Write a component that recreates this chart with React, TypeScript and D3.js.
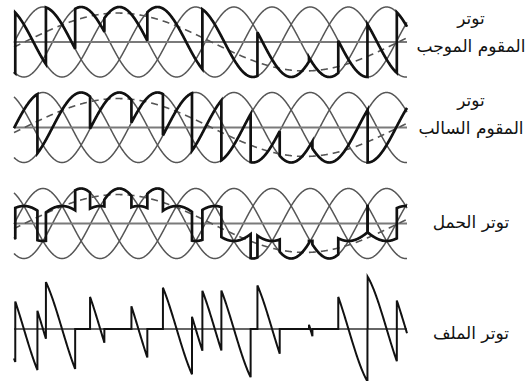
import React from "react";
import * as d3 from "d3";

// Three-phase supply: phase shifts (degrees) of A, B, C
const PHASE_SHIFT: Record<string, number> = { A: 0, B: 120, C: 240 };
const SUPPLY_PHASES = ["A", "B", "C"];

// Input angle range shown (degrees of the supply)
const THETA_START = -1;
const THETA_END = 1234;

// Positive converter: firing instants (deg) and phase switched in
const firingPAngles = [3, 99.3, 191.2, 283, 418, 591, 764, 926, 1018, 1109.7, 1202];
const firingPPhases = ["C", "A", "B", "C", "A", "B", "C", "A", "B", "C", "A"];
const initialPPhase = "B";

// Negative converter: firing instants (deg) and phase switched in
const firingNAngles = [72.6, 238, 368, 467, 558.3, 650.7, 742.6, 834, 936.8, 1110.3];
const firingNPhases = ["B", "C", "A", "B", "C", "A", "B", "C", "A", "B"];
const initialNPhase = "A";

// Mean output voltage (per-unit of supply peak)
const OUTPUT_AMPLITUDE = 0.827;
const OUTPUT_PERIOD = 1175;
const OUTPUT_ZERO = 32;

// Panel labels
const labelLines = [
  ["توتر", "المقوم الموجب"],
  ["توتر", "المقوم السالب"],
  ["توتر الحمل"],
  ["توتر الملف"],
];
const labelBaselines = [
  [24, 52],
  [106, 134],
  [228],
  [339],
];

const W = 527;
const H = 381;
const panelCenters = [42, 127.5, 223.5, 329];
const AMP = 35;

const rad = Math.PI / 180;
const phaseV = (ph: string, t: number) => Math.sin((t - PHASE_SHIFT[ph]) * rad);

type Firing = { at: number; phase: string };
const firingsP: Firing[] = firingPAngles.map((at, i) => ({ at, phase: firingPPhases[i] }));
const firingsN: Firing[] = firingNAngles.map((at, i) => ({ at, phase: firingNPhases[i] }));

function phaseAt(firings: Firing[], initial: string, t: number) {
  let ph = initial;
  for (const f of firings) if (f.at <= t) ph = f.phase;
  return ph;
}

// Sample a waveform built from the conducting phases of both converters
function buildSeries(combine: (vp: number, vn: number) => number) {
  const breaks = Array.from(
    new Set(
      [THETA_START, THETA_END, ...firingPAngles, ...firingNAngles].filter(
        (t) => t >= THETA_START && t <= THETA_END
      )
    )
  ).sort((a, b) => a - b);
  const pts: [number, number][] = [];
  for (let i = 0; i < breaks.length - 1; i++) {
    const t0 = breaks[i];
    const t1 = breaks[i + 1];
    const mid = (t0 + t1) / 2;
    const pp = phaseAt(firingsP, initialPPhase, mid);
    const pn = phaseAt(firingsN, initialNPhase, mid);
    const steps = Math.max(2, Math.ceil(t1 - t0));
    for (let k = 0; k <= steps; k++) {
      const t = t0 + ((t1 - t0) * k) / steps;
      pts.push([t, combine(phaseV(pp, t), phaseV(pn, t))]);
    }
  }
  return pts;
}

export default function App() {
  const x = d3.scaleLinear().domain([THETA_START, THETA_END]).range([14, 407]);
  const yFor = (c: number) => d3.scaleLinear().domain([-1, 1]).range([c + AMP, c - AMP]);

  const thetas = d3.range(THETA_START, THETA_END + 0.5, 1);

  const positive = buildSeries((vp) => vp);
  const negative = buildSeries((_vp, vn) => vn);
  const load = buildSeries((vp, vn) => (vp + vn) / 2);
  const reactor = buildSeries((vp, vn) => vp - vn);
  const bold = [positive, negative, load];

  const meanOut = thetas.map(
    (t) =>
      [t, OUTPUT_AMPLITUDE * Math.sin(((t - OUTPUT_ZERO) / OUTPUT_PERIOD) * 2 * Math.PI)] as [number, number]
  );

  return (
    <svg
      width={W}
      height={H}
      style={{ display: "block", position: "absolute", left: 0, top: 0, background: "#fff" }}
    >
      {panelCenters.map((c, pi) => {
        const y = yFor(c);
        const line = d3
          .line<[number, number]>()
          .x((d) => x(d[0]))
          .y((d) => y(d[1]));
        const supply = pi < 3;
        return (
          <g key={pi}>
            {supply &&
              SUPPLY_PHASES.map((ph) => (
                <path
                  key={ph}
                  d={line(thetas.map((t) => [t, phaseV(ph, t)] as [number, number])) || ""}
                  fill="none"
                  stroke="#565656"
                  strokeWidth={1.5}
                />
              ))}
            <line
              x1={x(THETA_START)}
              x2={x(THETA_END)}
              y1={y(0)}
              y2={y(0)}
              stroke={supply ? "#7a7a7a" : "#333"}
              strokeWidth={supply ? 2 : 1.3}
            />
            {supply && (
              <path
                d={line(meanOut) || ""}
                fill="none"
                stroke="#555"
                strokeWidth={1.6}
                strokeDasharray="7 5"
              />
            )}
            <path
              d={line(supply ? bold[pi] : reactor) || ""}
              fill="none"
              stroke="#111"
              strokeWidth={supply ? 2.7 : 2}
              strokeLinejoin="miter"
            />
            {labelLines[pi].map((txt, li) => (
              <text
                key={li}
                x={471}
                y={labelBaselines[pi][li]}
                textAnchor="middle"
                fontFamily="'DejaVu Sans', sans-serif"
                fontSize={17}
                fill="#111"
                direction="rtl"
              >
                {txt}
              </text>
            ))}
          </g>
        );
      })}
    </svg>
  );
}
